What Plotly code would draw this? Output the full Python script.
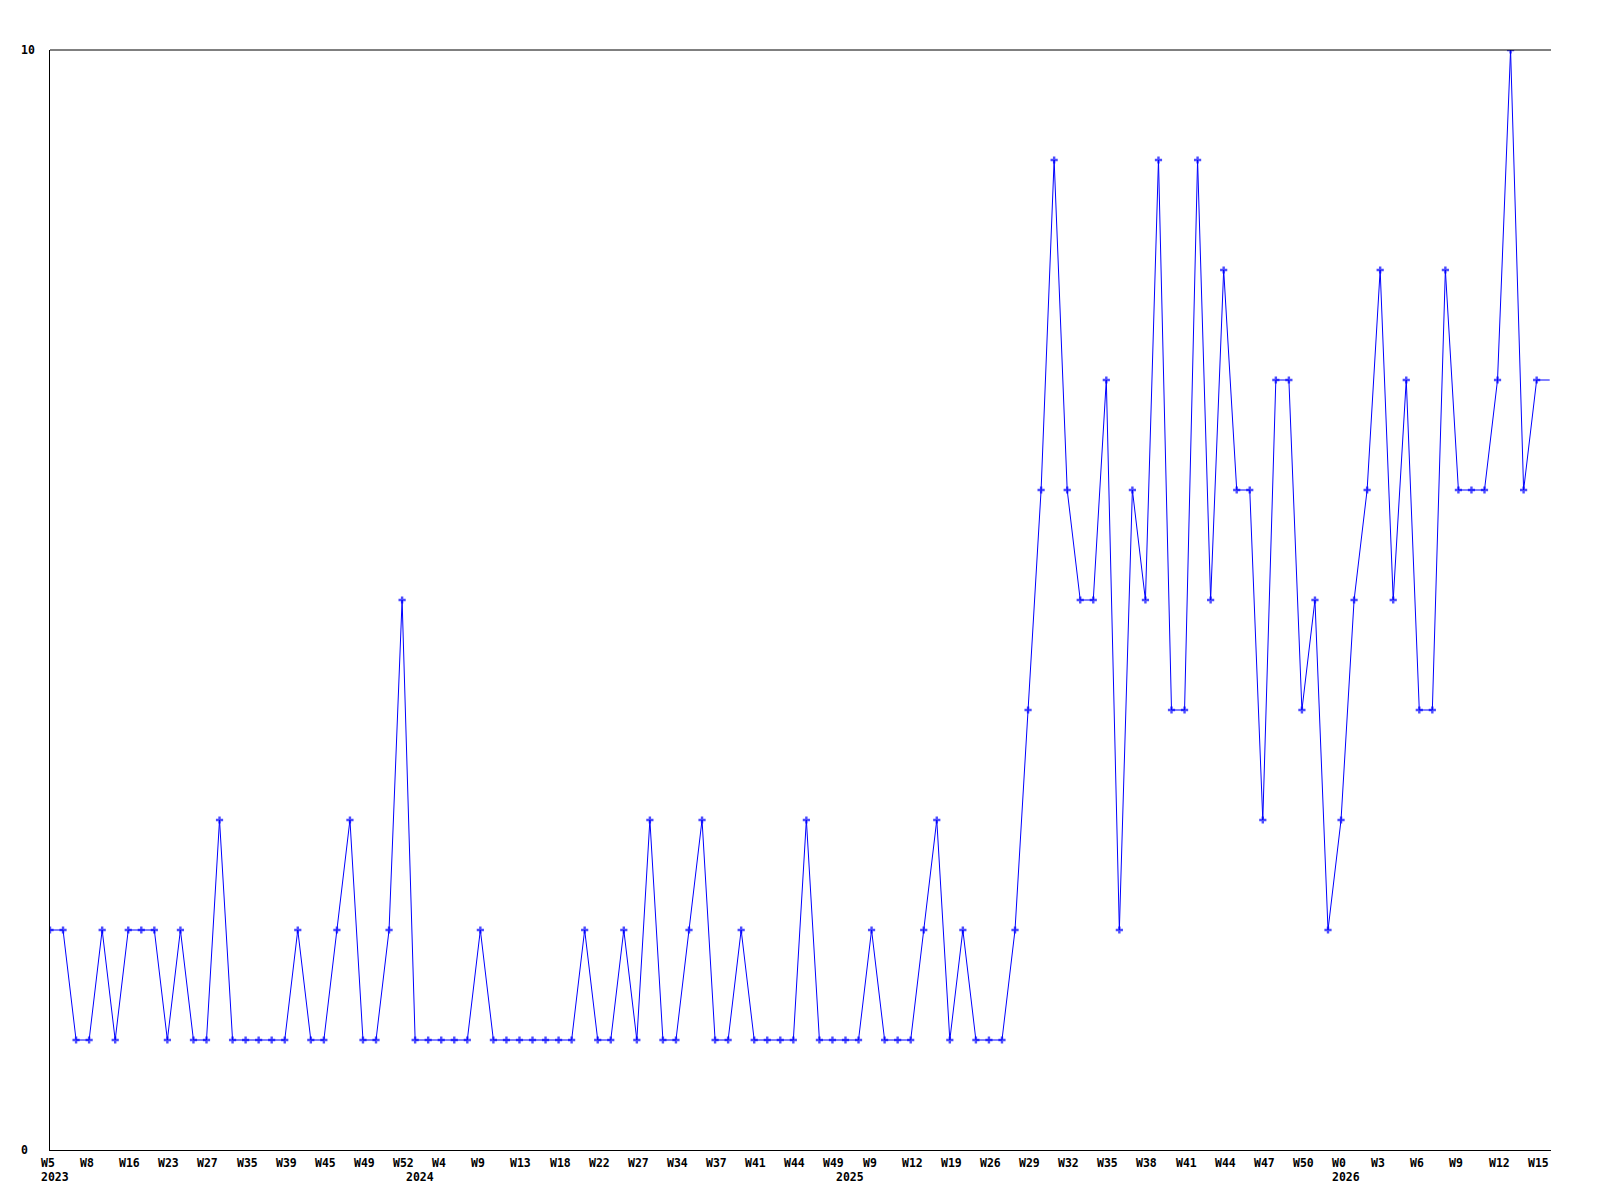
import plotly.graph_objects as go

# Weekly values (one per plotted week)
values = [2, 2, 1, 1, 2, 1, 2, 2, 2, 1, 2, 1, 1, 3, 1, 1, 1, 1, 1, 2, 1, 1, 2, 3, 1, 1, 2, 5, 1,
          1, 1, 1, 1, 2, 1, 1, 1, 1, 1, 1, 1, 2, 1, 1, 2, 1, 3, 1, 1, 2, 3, 1, 1, 2, 1, 1, 1, 1, 3, 1,
          1, 1, 1, 2, 1, 1, 1, 2, 3, 1, 2, 1, 1, 1,
          2, 4, 6, 9, 6, 5, 5, 7, 2, 6, 5, 9, 4, 4, 9, 5, 8, 6, 6, 3, 7, 7,
          4, 5, 2, 3, 5, 6, 8, 5, 7, 4, 4, 8, 6, 6, 6, 7, 10, 6, 7]
# current (partial) week continues the line to the right edge
current_value = 7

# Tick labels every third point
tick_labels = ["W5", "W8", "W16", "W23", "W27", "W35", "W39", "W45", "W49", "W52",
               "W4", "W9", "W13", "W18", "W22", "W27", "W34", "W37", "W41", "W44", "W49",
               "W9", "W12", "W19", "W26", "W29", "W32", "W35", "W38", "W41", "W44", "W47", "W50",
               "W0", "W3", "W6", "W9", "W12", "W15"]
tick_step = 3

# Year labels and the index of the first point of each year
years = ["2023", "2024", "2025", "2026"]
year_start_index = [0, 28, 61, 99]

y_labels = ["0", "10"]
y_label_values = [0, 10]

all_vals = values + [current_value]
xs = list(range(len(all_vals)))
marker_sizes = [6] * len(values) + [0]

fig = go.Figure()
fig.add_trace(go.Scatter(
    x=xs, y=all_vals, mode="lines+markers",
    line=dict(color="#0000ff", width=1),
    marker=dict(symbol="cross", size=marker_sizes, color="#0000ff", line=dict(width=0)),
    hoverinfo="skip", showlegend=False, cliponaxis=True,
))

font = dict(family="DejaVu Sans Mono", size=11.5, color="#000000", weight="bold")

annotations = []
for k, lab in enumerate(tick_labels):
    annotations.append(dict(
        x=k * tick_step, xref="x", y=0, yref="paper", text=lab, showarrow=False,
        xanchor="left", yanchor="middle", xshift=-11, yshift=-13, font=font,
    ))
for yr, idx in zip(years, year_start_index):
    annotations.append(dict(
        x=idx, xref="x", y=0, yref="paper", text=yr, showarrow=False,
        xanchor="left", yanchor="middle", xshift=-11, yshift=-27, font=font,
    ))
for lab, v in zip(y_labels, y_label_values):
    annotations.append(dict(
        x=0, xref="paper", y=v, yref="y", text=lab, showarrow=False,
        xanchor="left", yanchor="middle", xshift=-31, font=font,
    ))

fig.update_layout(
    width=1592, height=1192,
    margin=dict(l=42, r=49, t=42, b=50),
    paper_bgcolor="white", plot_bgcolor="white",
    annotations=annotations,
    xaxis=dict(range=[0, 115.1], showgrid=False, zeroline=False, showticklabels=False,
               ticks="", showline=True, linecolor="black", linewidth=1, mirror=False),
    yaxis=dict(range=[0, 10], showgrid=False, zeroline=False, showticklabels=False,
               ticks="", showline=True, linecolor="black", linewidth=1),
    shapes=[dict(type="line", xref="paper", yref="paper", x0=0, x1=1, y0=1, y1=1,
                 line=dict(color="black", width=1))],
)

fig.write_html("out.html")
